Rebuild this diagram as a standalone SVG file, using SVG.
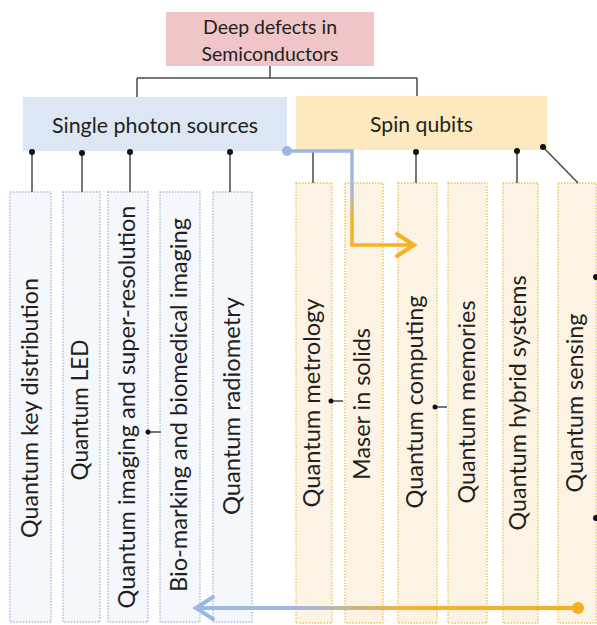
<svg xmlns="http://www.w3.org/2000/svg" width="597" height="625" viewBox="0 0 597 625">
<style>
  .lbl{font-family:Lato,"Open Sans","Liberation Sans",sans-serif;fill:#231f20}
  .v{font-size:22.5px}
  .bsm{fill:#f4f7fb;stroke:#a8b6ca;stroke-width:1.3;stroke-dasharray:1.4 1.6}
  .osm{fill:#fdf3e5;stroke:#e6c452;stroke-width:1.3;stroke-dasharray:1.4 1.6}
  .cn{stroke:#4a4a4a;stroke-width:1.5;fill:none}
  .dot{fill:#111}
</style>
<defs>
  <linearGradient id="gv" gradientUnits="userSpaceOnUse" x1="0" y1="151" x2="0" y2="245">
    <stop offset="0" stop-color="#9db6e2"/>
    <stop offset="0.45" stop-color="#a9b8d6"/>
    <stop offset="0.75" stop-color="#f5b224"/>
    <stop offset="1" stop-color="#f5b224"/>
  </linearGradient>
  <linearGradient id="gh" gradientUnits="userSpaceOnUse" x1="195" y1="0" x2="578" y2="0">
    <stop offset="0" stop-color="#9db6e2"/>
    <stop offset="0.3" stop-color="#a6b8d8"/>
    <stop offset="0.55" stop-color="#f3b430"/>
    <stop offset="1" stop-color="#f5b020"/>
  </linearGradient>
</defs>
<rect width="597" height="625" fill="#ffffff"/>

<g id="root">
  <rect x="166" y="12" width="208" height="54" fill="#efc5c7"/>
  <text class="lbl" x="270" y="34" font-size="19.5" text-anchor="middle" textLength="134" lengthAdjust="spacingAndGlyphs">Deep defects in</text>
  <text class="lbl" x="270" y="61" font-size="19.5" text-anchor="middle" textLength="137" lengthAdjust="spacingAndGlyphs">Semiconductors</text>
</g>
<g id="sps">
  <rect x="23" y="97" width="264" height="54" fill="#dde6f3"/>
  <text class="lbl" x="155" y="133" font-size="21" text-anchor="middle" textLength="206" lengthAdjust="spacingAndGlyphs">Single photon sources</text>
</g>
<g id="spin">
  <rect x="296" y="96" width="251" height="54" fill="#fce9c0"/>
  <text class="lbl" x="421.5" y="132" font-size="21" text-anchor="middle" textLength="103" lengthAdjust="spacingAndGlyphs">Spin qubits</text>
</g>

<g id="n1"><rect class="bsm" x="10" y="192" width="41" height="430"/>
  <text class="lbl v" transform="translate(38 408) rotate(-90)" text-anchor="middle" textLength="260" lengthAdjust="spacingAndGlyphs">Quantum key distribution</text></g>
<g id="n2"><rect class="bsm" x="63" y="192" width="37" height="430"/>
  <text class="lbl v" transform="translate(88 410) rotate(-90)" text-anchor="middle" textLength="141" lengthAdjust="spacingAndGlyphs">Quantum LED</text></g>
<g id="n3"><rect class="bsm" x="108" y="192" width="40" height="430"/>
  <text class="lbl v" transform="translate(135 407) rotate(-90)" text-anchor="middle" textLength="403" lengthAdjust="spacingAndGlyphs">Quantum imaging and super-resolution</text></g>
<g id="n4"><rect class="bsm" x="160" y="192" width="40" height="430"/>
  <text class="lbl v" transform="translate(187 405) rotate(-90)" text-anchor="middle" textLength="374" lengthAdjust="spacingAndGlyphs">Bio-marking and biomedical imaging</text></g>
<g id="n5"><rect class="bsm" x="213" y="192" width="39" height="430"/>
  <text class="lbl v" transform="translate(240 406) rotate(-90)" text-anchor="middle" textLength="218" lengthAdjust="spacingAndGlyphs">Quantum radiometry</text></g>

<g id="n6"><rect class="osm" x="296" y="183" width="36" height="440"/>
  <text class="lbl v" transform="translate(320 403) rotate(-90)" text-anchor="middle" textLength="209" lengthAdjust="spacingAndGlyphs">Quantum metrology</text></g>
<g id="n7"><rect class="osm" x="345" y="183" width="38" height="440"/>
  <text class="lbl v" transform="translate(370 404) rotate(-90)" text-anchor="middle" textLength="152" lengthAdjust="spacingAndGlyphs">Maser in solids</text></g>
<g id="n8"><rect class="osm" x="398" y="183" width="39" height="440"/>
  <text class="lbl v" transform="translate(423 402) rotate(-90)" text-anchor="middle" textLength="213" lengthAdjust="spacingAndGlyphs">Quantum computing</text></g>
<g id="n9"><rect class="osm" x="448" y="183" width="39" height="440"/>
  <text class="lbl v" transform="translate(475 402) rotate(-90)" text-anchor="middle" textLength="203" lengthAdjust="spacingAndGlyphs">Quantum memories</text></g>
<g id="n10"><rect class="osm" x="503" y="183" width="35" height="440"/>
  <text class="lbl v" transform="translate(526 403) rotate(-90)" text-anchor="middle" textLength="255" lengthAdjust="spacingAndGlyphs">Quantum hybrid systems</text></g>
<g id="n11"><rect class="osm" x="558" y="183" width="38" height="440"/>
  <text class="lbl v" transform="translate(583 403) rotate(-90)" text-anchor="middle" textLength="179" lengthAdjust="spacingAndGlyphs">Quantum sensing</text></g>

<g id="connectors">
  <path class="cn" d="M270 66V78M137 78H417M137 78V97M417 78V96"/>
  <path class="cn" d="M32 152V192M82 153V192M130 152V192M230 152V192M148 432H161"/>
  <circle class="dot" cx="32" cy="152" r="3"/>
  <circle class="dot" cx="82" cy="153" r="3"/>
  <circle class="dot" cx="130" cy="152" r="3"/>
  <circle class="dot" cx="230" cy="152" r="3"/>
  <circle class="dot" cx="148" cy="432" r="2.5"/>
  <path class="cn" d="M313 151V183M416 152V183M517 151V183M543 147L578 183M331 401H343M435 407H447"/>
  <circle class="dot" cx="416" cy="152" r="3"/>
  <circle class="dot" cx="517" cy="151" r="3"/>
  <circle class="dot" cx="543" cy="147" r="3"/>
  <circle class="dot" cx="331" cy="401" r="2.5"/>
  <circle class="dot" cx="435" cy="407" r="2.5"/>
  <circle class="dot" cx="596" cy="277" r="3"/>
  <circle class="dot" cx="596" cy="518" r="3"/>
</g>

<g id="arrows">
  <path d="M287 151H352V245H412" fill="none" stroke="url(#gv)" stroke-width="3.5"/>
  <polyline points="397,234 414,245 397,256" fill="none" stroke="#f5b224" stroke-width="4" stroke-linecap="round"/>
  <circle cx="287" cy="151" r="5" fill="#9db6e2"/>
  <path d="M578 608H198" fill="none" stroke="url(#gh)" stroke-width="4"/>
  <polyline points="213,597 196,608 213,619" fill="none" stroke="#9db6e2" stroke-width="4" stroke-linecap="round"/>
  <circle cx="578" cy="608" r="6" fill="#f5b020"/>
</g>
</svg>
